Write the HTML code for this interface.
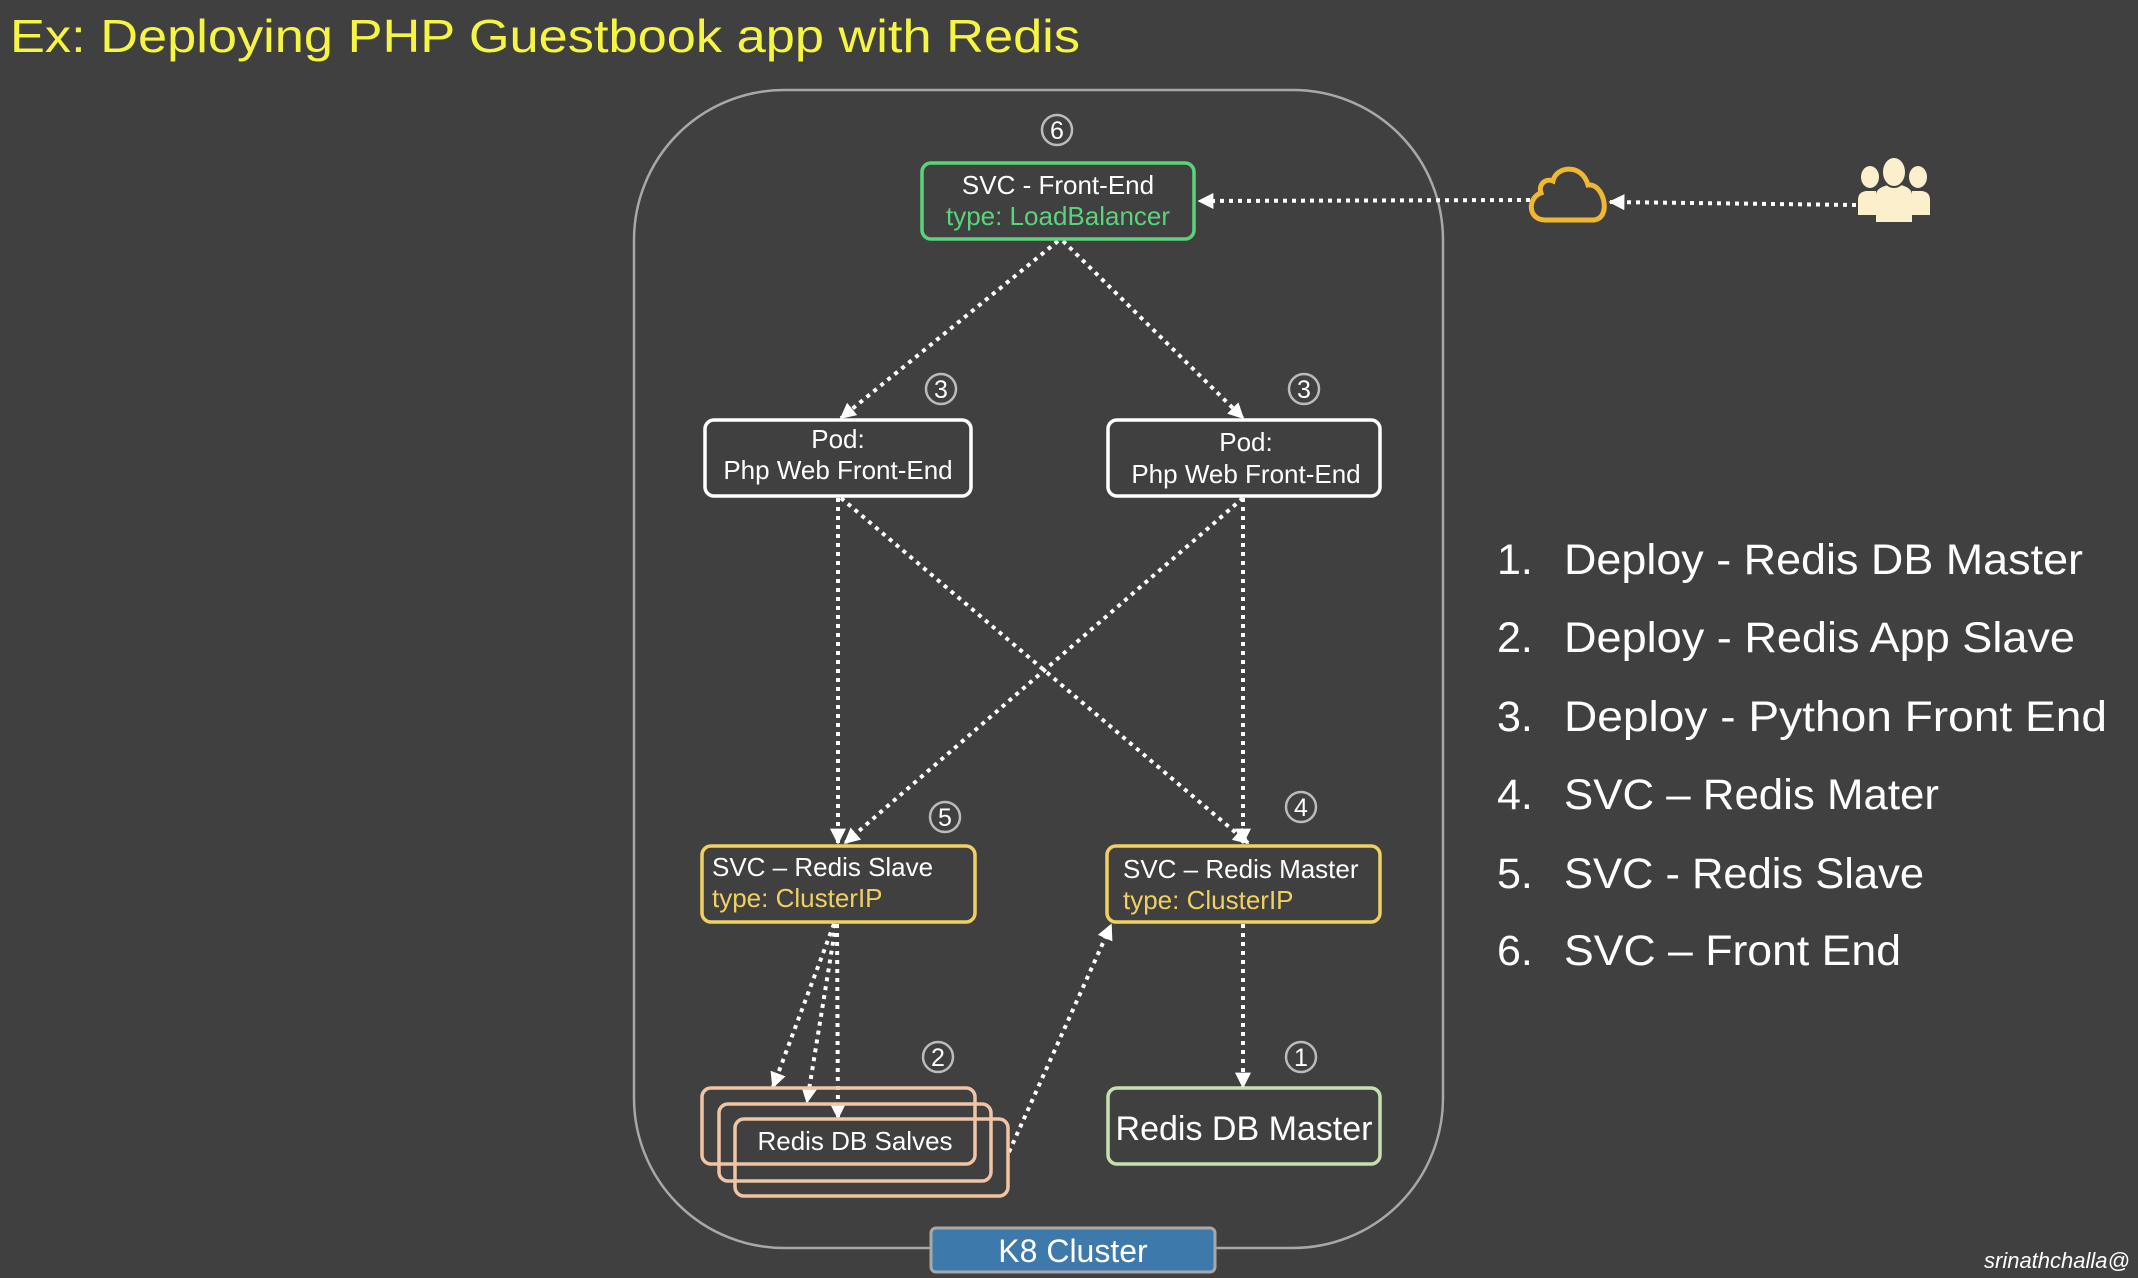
<!DOCTYPE html>
<html><head><meta charset="utf-8"><style>
body{margin:0;background:#404040;width:2138px;height:1278px;overflow:hidden;font-family:"Liberation Sans",sans-serif}
svg{position:absolute;left:0;top:0}
</style></head><body>
<svg width="2138" height="1278" viewBox="0 0 2138 1278" font-family="Liberation Sans, sans-serif">
<defs>
<marker id="b" viewBox="0 0 10 10" refX="9" refY="5" markerWidth="16" markerHeight="16" orient="auto" markerUnits="userSpaceOnUse"><path d="M0,0 L10,5 L0,10 z" fill="#fff"/></marker>
</defs>
<text x="10" y="52" fill="#f5f542" font-size="46" textLength="1070" lengthAdjust="spacingAndGlyphs">Ex: Deploying PHP Guestbook app with Redis</text>
<rect x="634" y="90" width="809" height="1158" rx="150" fill="none" stroke="#a8a8a8" stroke-width="2.5"/>
<rect x="931" y="1228" width="284" height="44" rx="5" fill="#3d7aab" stroke="#a8a8a8" stroke-width="3"/>
<text x="1073" y="1262" fill="#fff" font-size="32" text-anchor="middle">K8 Cluster</text>

<g stroke="#fff" stroke-width="4" stroke-dasharray="4 5" fill="none" marker-end="url(#b)">
<line x1="1530" y1="200" x2="1199" y2="201"/>
<line x1="1856" y1="205" x2="1610" y2="202"/>
<line x1="1058" y1="241" x2="841" y2="418"/>
<line x1="1063" y1="241" x2="1243" y2="418"/>
<line x1="838" y1="498" x2="838" y2="843"/>
<line x1="841" y1="498" x2="1248" y2="843"/>
<line x1="1243" y1="498" x2="845" y2="843"/>
<line x1="1243" y1="498" x2="1243" y2="843"/>
<line x1="834" y1="924" x2="773" y2="1087"/>
<line x1="836" y1="924" x2="807" y2="1102"/>
<line x1="837" y1="924" x2="838" y2="1118"/>
<line x1="1009" y1="1152" x2="1111" y2="925"/>
<line x1="1243" y1="924" x2="1243" y2="1087"/>
</g>

<g font-size="26" text-anchor="middle">
<rect x="922" y="163" width="272" height="76" rx="9" fill="#404040" stroke="#5ad47a" stroke-width="3.5"/>
<text x="1058" y="194" fill="#fff">SVC - Front-End</text>
<text x="1058" y="225" fill="#5ad47a">type: LoadBalancer</text>

<rect x="705" y="420" width="266" height="76" rx="9" fill="#404040" stroke="#fff" stroke-width="3.5"/>
<text x="838" y="448" fill="#fff">Pod:</text>
<text x="838" y="479" fill="#fff">Php Web Front-End</text>
<rect x="1108" y="420" width="272" height="76" rx="9" fill="#404040" stroke="#fff" stroke-width="3.5"/>
<text x="1246" y="451" fill="#fff">Pod:</text>
<text x="1246" y="483" fill="#fff">Php Web Front-End</text>

<rect x="702" y="846" width="273" height="76" rx="9" fill="#404040" stroke="#f0d060" stroke-width="3.5"/>
<text x="712" y="876" fill="#fff" text-anchor="start">SVC – Redis Slave</text>
<text x="712" y="907" fill="#f0d060" text-anchor="start">type: ClusterIP</text>
<rect x="1107" y="846" width="273" height="76" rx="9" fill="#404040" stroke="#f0d060" stroke-width="3.5"/>
<text x="1123" y="878" fill="#fff" text-anchor="start">SVC – Redis Master</text>
<text x="1123" y="909" fill="#f0d060" text-anchor="start">type: ClusterIP</text>

<rect x="702" y="1088" width="273" height="76" rx="9" fill="none" stroke="#f0c4a4" stroke-width="3.5"/>
<rect x="719" y="1104" width="272" height="77" rx="9" fill="none" stroke="#f0c4a4" stroke-width="3.5"/>
<rect x="735" y="1119" width="273" height="77" rx="9" fill="none" stroke="#f0c4a4" stroke-width="3.5"/>
<text x="855" y="1150" fill="#fff">Redis DB Salves</text>

<rect x="1108" y="1088" width="272" height="76" rx="9" fill="#404040" stroke="#c8e0b0" stroke-width="3.5"/>
<text x="1244" y="1140" fill="#fff" font-size="34">Redis DB Master</text>
</g>

<g fill="none" stroke="#bbb" stroke-width="2.5">
<circle cx="1057" cy="130" r="15"/><circle cx="941" cy="389" r="15"/><circle cx="1304" cy="389" r="15"/>
<circle cx="945" cy="817" r="15"/><circle cx="1301" cy="807" r="15"/><circle cx="938" cy="1057" r="15"/><circle cx="1301" cy="1057" r="15"/>
</g>
<g fill="#fff" font-size="25" text-anchor="middle">
<text x="1057" y="139">6</text><text x="941" y="398">3</text><text x="1304" y="398">3</text>
<text x="945" y="826">5</text><text x="1301" y="816">4</text><text x="938" y="1066">2</text><text x="1301" y="1066">1</text>
</g>

<path d="M1545,220 C1528,220 1527,198 1541,193 C1538,184 1546,178 1553,181 C1556,166 1582,163 1588,185 C1604,183 1612,218 1594,220 Z" fill="none" stroke="#f0b830" stroke-width="5"/>

<g fill="#fbefcc">
<path d="M1876,222 L1876,195 Q1876,188 1888,185 L1901,185 Q1912,188 1912,195 L1912,222 Z"/>
<ellipse cx="1870" cy="177" rx="9" ry="11"/><ellipse cx="1918" cy="177" rx="9" ry="11"/>
<path d="M1858,215 L1858,200 Q1858,192 1866,191 L1876,191 L1876,215 Z"/><path d="M1912,191 L1922,191 Q1930,192 1930,200 L1930,215 L1912,215 Z"/>
<ellipse cx="1894" cy="172" rx="12" ry="15" stroke="#404040" stroke-width="2"/>
</g>

<g fill="#fff" font-size="43">
<text x="1497" y="574">1.</text><text x="1564" y="574" textLength="519" lengthAdjust="spacingAndGlyphs">Deploy - Redis DB Master</text>
<text x="1497" y="652">2.</text><text x="1564" y="652" textLength="511" lengthAdjust="spacingAndGlyphs">Deploy - Redis App Slave</text>
<text x="1497" y="731">3.</text><text x="1564" y="731" textLength="543" lengthAdjust="spacingAndGlyphs">Deploy - Python Front End</text>
<text x="1497" y="809">4.</text><text x="1564" y="809" textLength="375" lengthAdjust="spacingAndGlyphs">SVC – Redis Mater</text>
<text x="1497" y="888">5.</text><text x="1564" y="888" textLength="360" lengthAdjust="spacingAndGlyphs">SVC - Redis Slave</text>
<text x="1497" y="965">6.</text><text x="1564" y="965" textLength="337" lengthAdjust="spacingAndGlyphs">SVC – Front End</text>
</g>
<text x="1984" y="1268" fill="#fff" font-size="22" font-style="italic">srinathchalla@</text>
</svg>
</body></html>
